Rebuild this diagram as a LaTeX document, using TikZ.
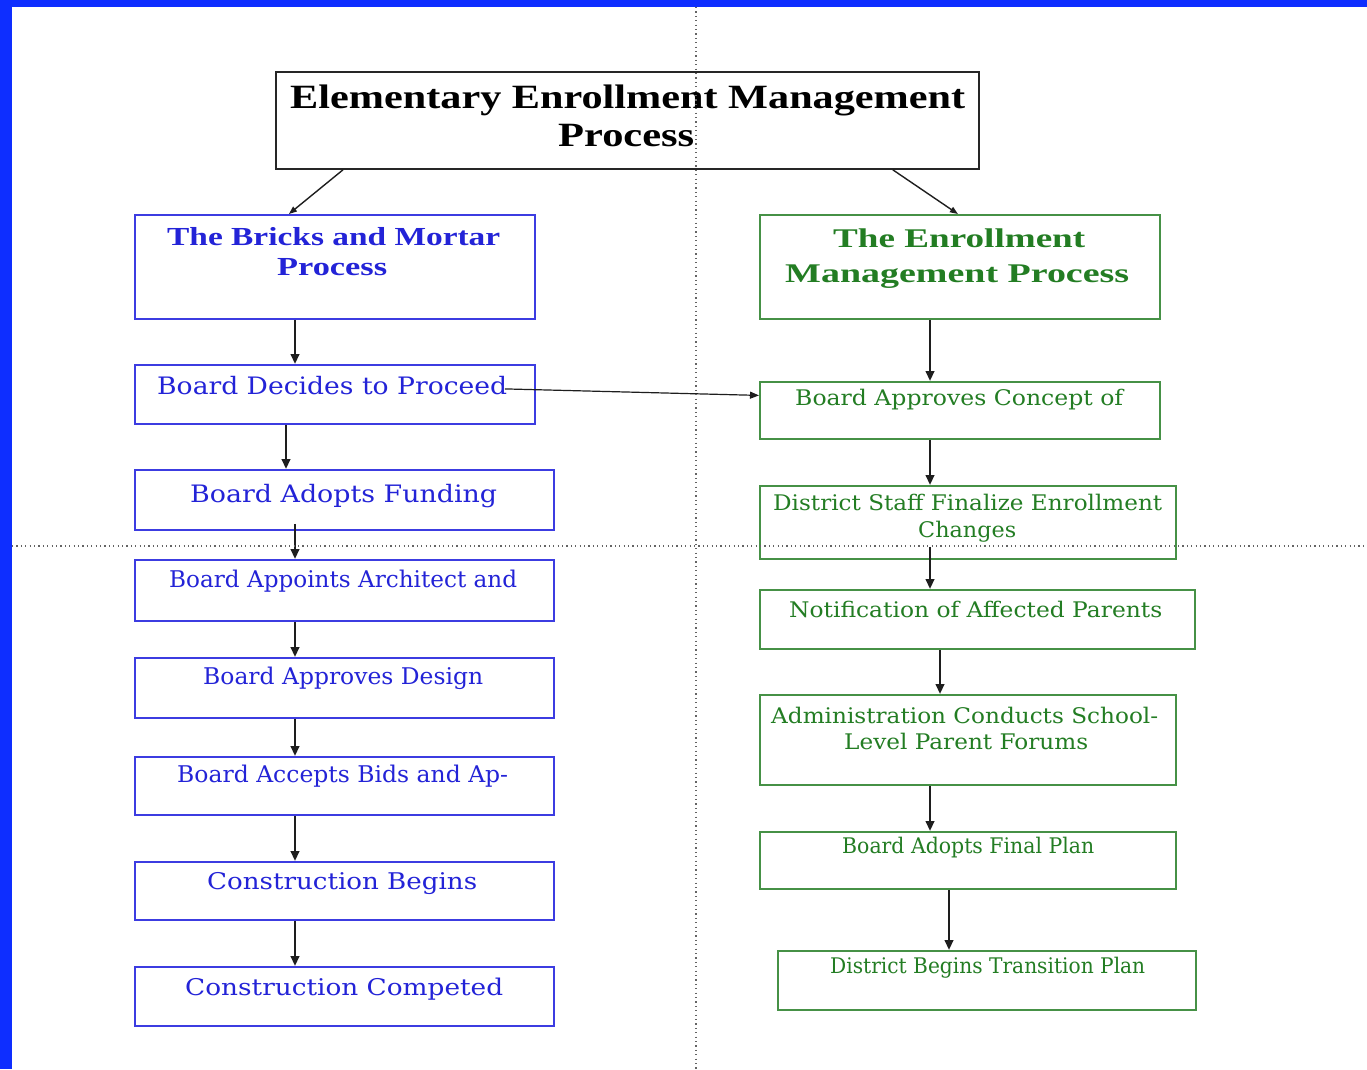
\documentclass[tikz,border=0pt]{standalone}
\usepackage{fontspec}
\usepackage{graphicx}
\setmainfont{Liberation Serif}
\newfontfamily\boxfont{DejaVu Serif}
\usetikzlibrary{arrows.meta}
\definecolor{frameblue}{RGB}{14,46,255}
\definecolor{txtblue}{RGB}{35,35,215}
\definecolor{lnblue}{RGB}{60,60,225}
\definecolor{txtgreen}{RGB}{35,125,35}
\definecolor{lngreen}{RGB}{70,145,70}
\definecolor{dotgray}{RGB}{100,100,100}
\definecolor{arrgray}{RGB}{30,30,30}
\newcommand\fitw[2]{\resizebox{#1pt}{\height}{#2}}
\begin{document}
\begin{tikzpicture}[x=1pt,y=-1pt,
  box/.style={draw, line width=1.8pt, inner sep=0pt, anchor=north west},
  titlebox/.style={box, draw=black!85},
  bluebox/.style={box, draw=lnblue},
  greenbox/.style={box, draw=lngreen},
  txt/.style={inner sep=0pt, anchor=base west},
  ttl/.style={txt, font=\fontsize{34}{34}\selectfont\bfseries, text=black},
  bhead/.style={txt, font=\fontsize{26}{26}\selectfont\bfseries, text=txtblue},
  ghead/.style={txt, font=\fontsize{27}{27}\selectfont\bfseries, text=txtgreen},
  btxt/.style={txt, font=\boxfont\fontsize{23}{23}\selectfont, text=txtblue},
  gtxt/.style={txt, font=\boxfont\fontsize{21.5}{21.5}\selectfont, text=txtgreen},
  arr/.style={draw=arrgray, line width=2.3pt, -{Triangle[length=10pt,width=8.5pt]}},
  thin/.style={draw=arrgray, line width=1.4pt, -{Triangle[length=8pt,width=6pt]}},
]
\useasboundingbox (0,0) rectangle (1367,1069);
\fill[white] (0,0) rectangle (1367,1069);
% frame
\fill[frameblue] (0,0) rectangle (1367,7);
\fill[frameblue] (0,0) rectangle (12,1069);

% boxes
\node[titlebox, minimum width=703pt, minimum height=97pt] (title) at (275,71) {};
\node[bluebox, minimum width=400pt, minimum height=104pt] (lh) at (134,214) {};
\node[bluebox, minimum width=400pt, minimum height=59pt] (b1) at (134,364) {};
\node[bluebox, minimum width=419pt, minimum height=60pt] (b2) at (134,469) {};
\node[bluebox, minimum width=419pt, minimum height=61pt] (b3) at (134,559) {};
\node[bluebox, minimum width=419pt, minimum height=60pt] (b4) at (134,657) {};
\node[bluebox, minimum width=419pt, minimum height=58pt] (b5) at (134,756) {};
\node[bluebox, minimum width=419pt, minimum height=58pt] (b6) at (134,861) {};
\node[bluebox, minimum width=419pt, minimum height=59pt] (b7) at (134,966) {};
\node[greenbox, minimum width=400pt, minimum height=104pt] (rh) at (759,214) {};
\node[greenbox, minimum width=400pt, minimum height=57pt] (r1) at (759,381) {};
\node[greenbox, minimum width=416pt, minimum height=73pt] (r2) at (759,485) {};
\node[greenbox, minimum width=435pt, minimum height=59pt] (r3) at (759,589) {};
\node[greenbox, minimum width=416pt, minimum height=90pt] (r4) at (759,694) {};
\node[greenbox, minimum width=416pt, minimum height=57pt] (r5) at (759,831) {};
\node[greenbox, minimum width=418pt, minimum height=59pt] (r6) at (777,950) {};

% texts
\node[ttl] (t1a) at (290,108) {\fitw{675}{Elementary Enrollment Management}};
\node[ttl] (t1b) at (558,146) {\fitw{136}{Process}};
\node[bhead] (lha) at (167,245) {\fitw{333}{The Bricks and Mortar}};
\node[bhead] (lhb) at (277,275) {\fitw{110}{Process}};
\node[ghead] (rha) at (833,247) {\fitw{252}{The Enrollment}};
\node[ghead] (rhb) at (785,282) {\fitw{344}{Management Process}};
\node[btxt, font=\boxfont\fontsize{24}{24}\selectfont] (b1t) at (157,394) {\fitw{350}{Board Decides to Proceed}};
\node[btxt, font=\boxfont\fontsize{24}{24}\selectfont] (b2t) at (190,502) {\fitw{307}{Board Adopts Funding}};
\node[btxt] (b3t) at (169,587) {\fitw{348}{Board Appoints Architect and}};
\node[btxt] (b4t) at (203,684) {\fitw{280}{Board Approves Design}};
\node[btxt] (b5t) at (177,782) {\fitw{331}{Board Accepts Bids and Ap-}};
\node[btxt] (b6t) at (207,889) {\fitw{270}{Construction Begins}};
\node[btxt] (b7t) at (185,995) {\fitw{318}{Construction Competed}};
\node[gtxt] (r1t) at (795,405) {\fitw{328}{Board Approves Concept of}};
\node[gtxt] (r2a) at (773,510) {\fitw{389}{District Staff Finalize Enrollment}};
\node[gtxt] (r2b) at (918,537) {\fitw{98}{Changes}};
\node[gtxt] (r3t) at (789,617) {\fitw{373}{Notification of Affected Parents}};
\node[gtxt] (r4a) at (771,723) {\fitw{387}{Administration Conducts School-}};
\node[gtxt] (r4b) at (844,749) {\fitw{244}{Level Parent Forums}};
\node[gtxt] (r5t) at (842,853) {\fitw{252}{Board Adopts Final Plan}};
\node[gtxt] (r6t) at (830,973) {\fitw{315}{District Begins Transition Plan}};

% column x coordinates
\coordinate (lx) at (295,0);
\coordinate (lx1) at (286,0);
\coordinate (rx) at (930,0);
\coordinate (rx3) at (940,0);
\coordinate (rx5) at (949,0);

% connectors
\draw[thin] ([xshift=68pt]title.south west) -- ([xshift=-46pt]lh.north);
\draw[thin] ([xshift=-87pt]title.south east) -- ([xshift=-2pt]rh.north);

\draw[arr] (lh.south -| lx) -- (b1.north -| lx);
\draw[arr] (b1.south -| lx1) -- (b2.north -| lx1);
\draw[arr] ([yshift=7pt]b2.south -| lx) -- (b3.north -| lx);
\draw[arr] (b3.south -| lx) -- (b4.north -| lx);
\draw[arr] (b4.south -| lx) -- (b5.north -| lx);
\draw[arr] (b5.south -| lx) -- (b6.north -| lx);
\draw[arr] (b6.south -| lx) -- (b7.north -| lx);

\draw[arr] (rh.south -| rx) -- (r1.north -| rx);
\draw[arr] (r1.south -| rx) -- (r2.north -| rx);
\draw[arr] ([yshift=13pt]r2.south -| rx) -- (r3.north -| rx);
\draw[arr] (r3.south -| rx3) -- (r4.north -| rx3);
\draw[arr] (r4.south -| rx) -- (r5.north -| rx);
\draw[arr] (r5.south -| rx5) -- (r6.north -| rx5);

\draw[draw=arrgray, line width=1.2pt, -{Triangle[length=9pt,width=7pt]}] ([xshift=-31pt,yshift=5.5pt]b1.east) -- ([yshift=15pt]r1.west);

% dotted guide lines
\draw[dotgray, line width=1.2pt, dash pattern=on 1.2pt off 3.2pt] (696,7) -- (696,1069);
\draw[dotgray, line width=1.2pt, dash pattern=on 1.2pt off 3.2pt] (12,546) -- (1367,546);
\end{tikzpicture}
\end{document}
